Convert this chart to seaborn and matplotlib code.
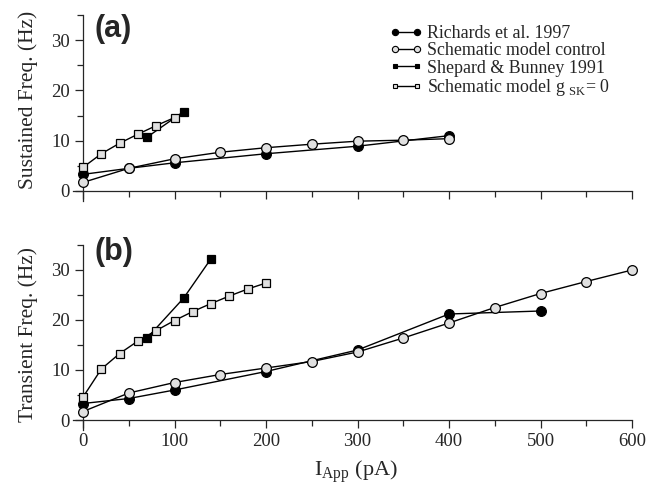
import numpy as np
import pandas as pd
import matplotlib
matplotlib.use('Agg')
import matplotlib.pyplot as plt
import seaborn as sns
from matplotlib.lines import Line2D
from matplotlib.ticker import MultipleLocator

# (a) 지속 주파수 데이터
a_rich_x = [0, 50, 100, 200, 300, 400]
a_rich_y = [3.3, 4.5, 5.6, 7.4, 8.9, 11.0]
a_ctrl_x = [0, 50, 100, 150, 200, 250, 300, 350, 400]
a_ctrl_y = [1.7, 4.5, 6.4, 7.7, 8.6, 9.3, 9.9, 10.1, 10.4]
a_shep_x = [70, 110]
a_shep_y = [10.7, 15.8]
a_gsk_x = [0, 20, 40, 60, 80, 100]
a_gsk_y = [4.7, 7.4, 9.5, 11.3, 13.0, 14.6]

# (b) 과도 주파수 데이터
b_rich_x = [0, 50, 100, 200, 300, 400, 500]
b_rich_y = [3.3, 4.3, 6.0, 9.7, 14.0, 21.2, 21.8]
b_ctrl_x = [0, 50, 100, 150, 200, 250, 300, 350, 400, 450, 500, 550, 600]
b_ctrl_y = [1.7, 5.4, 7.5, 9.1, 10.4, 11.7, 13.6, 16.4, 19.4, 22.5, 25.3, 27.7, 30.0]
b_shep_x = [70, 110, 140]
b_shep_y = [16.4, 24.4, 32.3]
b_gsk_x = [0, 20, 40, 60, 80, 100, 120, 140, 160, 180, 200]
b_gsk_y = [4.6, 10.2, 13.3, 15.8, 17.9, 19.9, 21.7, 23.3, 24.8, 26.2, 27.4]

labels = ['Richards et al. 1997', 'Schematic model control',
          'Shepard & Bunney 1991', r'Schematic model g $_{\mathrm{SK}}$= 0']

sns.set_style('ticks')
plt.rcParams['font.family'] = ['Liberation Serif', 'DejaVu Serif']
plt.rcParams['mathtext.fontset'] = 'custom'
plt.rcParams['mathtext.rm'] = 'Liberation Serif'

grey = '#e0e0e0'
styles = [dict(marker='o', markerfacecolor='k', markersize=7),
          dict(marker='o', markerfacecolor=grey, markersize=7),
          dict(marker='s', markerfacecolor='k', markersize=6),
          dict(marker='s', markerfacecolor=grey, markersize=6)]

fig = plt.figure(figsize=(6.59, 4.9), dpi=100)
ax_a = fig.add_axes([73/659, (490-201)/490, 559/659, 186/490])
ax_b = fig.add_axes([73/659, (490-430)/490, 559/659, 185/490])

panels = [
    (ax_a, [(a_rich_x, a_rich_y), (a_ctrl_x, a_ctrl_y), (a_shep_x, a_shep_y), (a_gsk_x, a_gsk_y)]),
    (ax_b, [(b_rich_x, b_rich_y), (b_ctrl_x, b_ctrl_y), (b_shep_x, b_shep_y), (b_gsk_x, b_gsk_y)]),
]

for ax, series in panels:
    for (xs, ys), st in zip(series, styles):
        sns.lineplot(x=xs, y=ys, ax=ax, color='k', linewidth=1,
                     markeredgecolor='k', markeredgewidth=0.9,
                     clip_on=False, zorder=3, **st)
    ax.set_xlim(-11, 600)
    ax.set_ylim(-2, 35)
    ax.spines['left'].set_position(('data', 0))
    ax.spines['bottom'].set_position(('data', 0))
    ax.spines['right'].set_visible(False)
    ax.spines['top'].set_visible(False)
    ax.xaxis.set_major_locator(MultipleLocator(100))
    ax.xaxis.set_minor_locator(MultipleLocator(50))
    ax.yaxis.set_major_locator(MultipleLocator(10))
    ax.yaxis.set_minor_locator(MultipleLocator(5))
    ax.tick_params(which='major', direction='out', length=6, width=0.9, labelsize=13.5)
    ax.tick_params(which='minor', direction='out', length=4, width=0.9)
    for sp in ax.spines.values():
        sp.set_linewidth(0.9)

ax_a.tick_params(axis='x', which='both', labelbottom=False)
ax_a.set_yticks([0, 10, 20, 30])
ax_b.set_yticks([0, 10, 20, 30])

ax_a.text(12, 32.2, '(a)', fontsize=22, fontweight='bold', family='Liberation Sans', va='center')
ax_b.text(12, 33.6, '(b)', fontsize=22, fontweight='bold', family='Liberation Sans', va='center')

fig.text(28/659, (490-100)/490, 'Sustained Freq. (Hz)', rotation=90, ha='center', va='center', fontsize=15.5)
fig.text(28/659, (490-335)/490, 'Transient Freq. (Hz)', rotation=90, ha='center', va='center', fontsize=15.5)
fig.text(356/659, (490-472)/490, r'I$_{\mathrm{App}}$ (pA)', ha='center', va='center', fontsize=16)

# 범례: 선 양 끝에 마커
handles = []
for st in styles:
    handles.append(Line2D([], [], color='k', linewidth=1, marker=st['marker'],
                          markerfacecolor=st['markerfacecolor'], markeredgecolor='k',
                          markeredgewidth=0.8, markersize=st['markersize'] - 2.5))

fig.legend(handles, labels, loc='upper left', bbox_to_anchor=(390/659, (490-25)/490),
           frameon=False, fontsize=12.9, numpoints=2, handlelength=1.8, handletextpad=0.25,
           labelspacing=0.02, borderpad=0, borderaxespad=0)

plt.savefig('out.png', dpi=100)
